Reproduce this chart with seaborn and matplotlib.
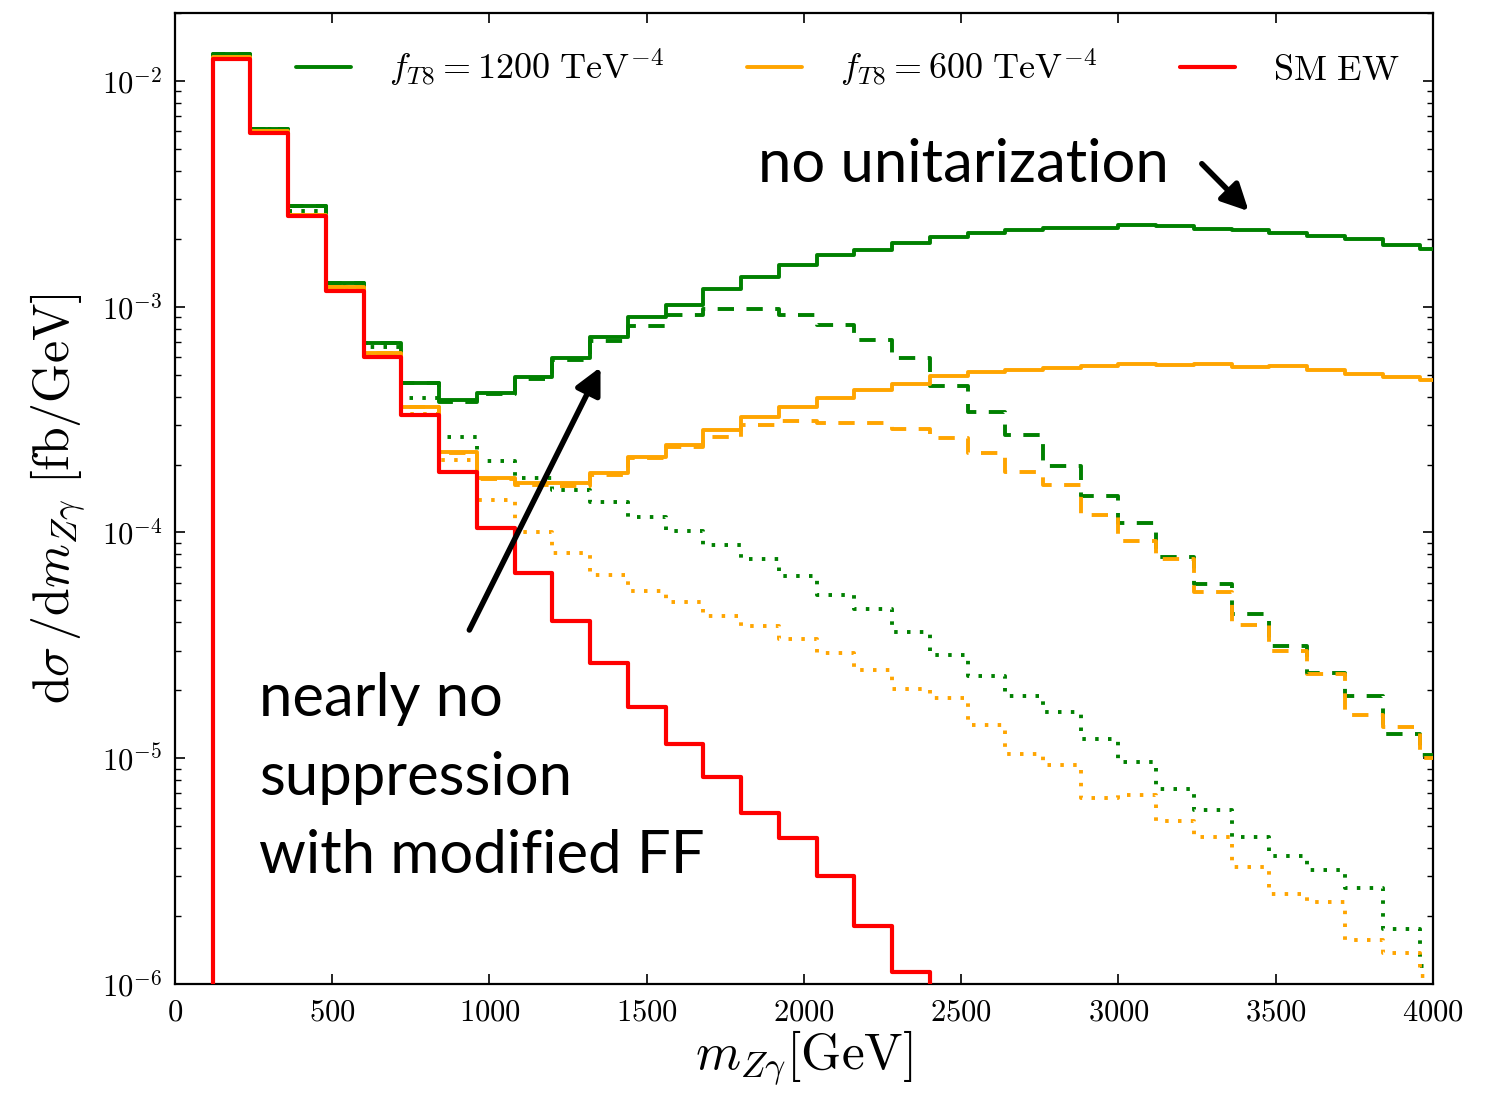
import math
import matplotlib
matplotlib.use("Agg")
import matplotlib.pyplot as plt
import seaborn as sns
from matplotlib.lines import Line2D
from matplotlib.ticker import FuncFormatter, FixedLocator, LogLocator, NullLocator

# ---------------- data ----------------
# bin edges in GeV (first bin 0-120 is empty)
bin_edges = list(range(0, 4081, 120))

# f_T8 = 1200 TeV^-4
green_no_unit = [0.0131, 0.00614, 0.00279, 0.00127, 0.000692, 0.00046, 0.000385, 0.000413,
                 0.000486, 0.00059, 0.000735, 0.00090, 0.00102, 0.0012, 0.00136, 0.00153,
                 0.00169, 0.00179, 0.00191, 0.00203, 0.00212, 0.00218, 0.00224, 0.00223,
                 0.00229, 0.00228, 0.00222, 0.00218, 0.00212, 0.00206, 0.0020, 0.00187, 0.00181]
green_mod_ff = [0.0131, 0.00614, 0.00279, 0.00127, 0.000690, 0.000458, 0.00038, 0.00041,
                0.00048, 0.00058, 0.000707, 0.00082, 0.00092, 0.00098, 0.00098, 0.00092,
                0.00083, 0.00071, 0.00059, 0.000447, 0.000343, 0.00027, 0.000197, 0.000145,
                0.00011, 7.8e-5, 5.9e-5, 4.36e-5, 3.13e-5, 2.38e-5, 1.88e-5, 1.28e-5, 1.03e-5]
green_dotted = [0.0130, 0.0061, 0.00265, 0.00125, 0.00066, 0.000394, 0.000265, 0.000208,
                0.000175, 0.000155, 0.000137, 0.000117, 0.000102, 8.8e-5, 7.6e-5, 6.4e-5,
                5.3e-5, 4.57e-5, 3.64e-5, 2.87e-5, 2.32e-5, 1.88e-5, 1.6e-5, 1.22e-5,
                9.6e-6, 7.3e-6, 5.9e-6, 4.5e-6, 3.7e-6, 3.2e-6, 2.65e-6, 1.75e-6, 1.2e-6]

# f_T8 = 600 TeV^-4
orange_no_unit = [0.0128, 0.0060, 0.00255, 0.00122, 0.000625, 0.00036, 0.000228, 0.000174,
                  0.000165, 0.000165, 0.000183, 0.000216, 0.000244, 0.000284, 0.000325, 0.00036,
                  0.000393, 0.000427, 0.000457, 0.000494, 0.000514, 0.000525, 0.000537, 0.000546,
                  0.000555, 0.000553, 0.00056, 0.000543, 0.000546, 0.000525, 0.000502, 0.000488,
                  0.000474]
orange_mod_ff = [0.0128, 0.0060, 0.00255, 0.00122, 0.000622, 0.000358, 0.000226, 0.000172,
                 0.000163, 0.00016, 0.00018, 0.000213, 0.00024, 0.000264, 0.0003, 0.000313,
                 0.000306, 0.000305, 0.000288, 0.000263, 0.000224, 0.000185, 0.000162, 0.000119,
                 9.2e-5, 7.65e-5, 5.45e-5, 3.9e-5, 3.0e-5, 2.35e-5, 1.56e-5, 1.37e-5, 1.0e-5]
orange_dotted = [0.0128, 0.0060, 0.00255, 0.00122, 0.00062, 0.000336, 0.00021, 0.000139,
                 0.000101, 8.1e-5, 6.5e-5, 5.5e-5, 4.9e-5, 4.27e-5, 3.85e-5, 3.36e-5,
                 2.92e-5, 2.47e-5, 2.03e-5, 1.84e-5, 1.4e-5, 1.04e-5, 9.3e-6, 6.7e-6,
                 6.9e-6, 5.3e-6, 4.5e-6, 3.3e-6, 2.5e-6, 2.3e-6, 1.56e-6, 1.37e-6, 1.08e-6]

# SM electroweak
sm_ew = [0.01254, 0.00588, 0.00252, 0.00118, 0.0006, 0.00033, 0.000186, 0.000105,
         6.6e-5, 4.06e-5, 2.64e-5, 1.69e-5, 1.16e-5, 8.3e-6, 5.7e-6, 4.45e-6,
         3.0e-6, 1.8e-6, 1.13e-6]

legend_labels = [r"$f_{T\mathrm{8}} = \mathrm{1200}\ \mathrm{TeV}^{-\mathrm{4}}$",
                 r"$f_{T\mathrm{8}} = \mathrm{600}\ \mathrm{TeV}^{-\mathrm{4}}$",
                 r"$\mathrm{SM\ EW}$"]
x_ticks = [0, 500, 1000, 1500, 2000, 2500, 3000, 3500, 4000]
y_ticks = [1e-6, 1e-5, 1e-4, 1e-3, 1e-2]

# ---------------- style ----------------
sns.set_style("ticks")
plt.rcParams["mathtext.fontset"] = "cm"
plt.rcParams["font.family"] = ["DejaVu Serif"]
plt.rcParams["axes.linewidth"] = 1.6
for key in ["text.color", "axes.labelcolor", "xtick.color", "ytick.color",
            "axes.edgecolor", "xtick.labelcolor", "ytick.labelcolor"]:
    plt.rcParams[key] = "black"

fig = plt.figure(figsize=(14.93, 10.93), dpi=100)
ax = fig.add_axes([0.1172, 0.0997, 0.8426, 0.8884])

GREEN = "#008000"
ORANGE = "#FFA500"
RED = "#FF0000"
LW = 2.8
DASH = (0, (4.2, 3.2))
DOT = (0, (0.9, 2.4))


def draw(vals, color, ls, lw, z):
    n = len(vals)
    centers = [(bin_edges[i + 1] + bin_edges[i + 2]) / 2 for i in range(n)]
    sns.histplot(x=centers, weights=vals, bins=bin_edges, element="step", fill=False,
                 color=color, linestyle=ls, linewidth=lw, zorder=z, ax=ax)


draw(green_dotted, GREEN, DOT, LW, 2)
draw(orange_dotted, ORANGE, DOT, LW, 2)
draw(green_mod_ff, GREEN, DASH, LW, 3)
draw(orange_mod_ff, ORANGE, DASH, LW, 3)
draw(green_no_unit, GREEN, "-", LW, 4)
draw(orange_no_unit, ORANGE, "-", LW, 4)
draw(sm_ew, RED, "-", 3.0, 5)

ax.set_yscale("log")
ax.set_xlim(0, 4000)
ax.set_ylim(1e-6, 0.02)

ax.xaxis.set_major_locator(FixedLocator(x_ticks))
ax.xaxis.set_minor_locator(NullLocator())
ax.xaxis.set_major_formatter(FuncFormatter(lambda v, p: r"$\mathrm{%d}$" % int(round(v))))
ax.yaxis.set_major_locator(FixedLocator(y_ticks))
ax.yaxis.set_minor_locator(LogLocator(base=10, subs=[2, 3, 4, 5, 6, 7, 8, 9], numticks=20))
ax.yaxis.set_major_formatter(FuncFormatter(
    lambda v, p: r"$\mathrm{10}^{-\mathrm{%d}}$" % int(round(-math.log10(v)))))
ax.tick_params(which="both", direction="in", top=True, right=True, labelsize=22,
               colors="black")
ax.tick_params(which="major", length=7, width=1.2, pad=9)
ax.tick_params(which="minor", length=4, width=1.0)

ax.set_xlabel(r"$m_{Z\gamma}[\mathrm{GeV}]$", fontsize=37, labelpad=1, color="black")
ax.set_ylabel(r"$\mathrm{d}\sigma\,/\mathrm{d}m_{Z\gamma}\ [\mathrm{fb}/\mathrm{GeV}]$",
              fontsize=36, labelpad=10, color="black")

handles = [Line2D([], [], color=GREEN, lw=LW), Line2D([], [], color=ORANGE, lw=LW),
           Line2D([], [], color=RED, lw=3.0)]
leg = ax.legend(handles, legend_labels, loc="upper center", bbox_to_anchor=(0.535, 1.0),
                ncol=3, frameon=False, fontsize=26, handlelength=1.52, handletextpad=1.05,
                columnspacing=2.3, borderaxespad=0.55)
for t in leg.get_texts():
    t.set_color("black")

txt_font = ["Lato", "DejaVu Sans"]
ax.text(1854, 3.56e-3, "no unitarization", fontsize=43, family=txt_font,
        color="black", ha="left", va="baseline", zorder=6)
ax.text(268, 3.11e-6, "nearly no\nsuppression\nwith modified FF", fontsize=43,
        family=txt_font, color="black", ha="left", va="baseline",
        linespacing=1.55, zorder=6)

arrow_kw = dict(arrowstyle="-|>", lw=4, color="black", mutation_scale=40,
                shrinkA=0, shrinkB=0)
ax.annotate("", xy=(1353, 5.4e-4), xytext=(936, 3.7e-5), arrowprops=arrow_kw, zorder=7)
ax.annotate("", xy=(3414, 2.65e-3), xytext=(3265, 4.3e-3), arrowprops=arrow_kw, zorder=7)

fig.savefig("out.png", dpi=100)
